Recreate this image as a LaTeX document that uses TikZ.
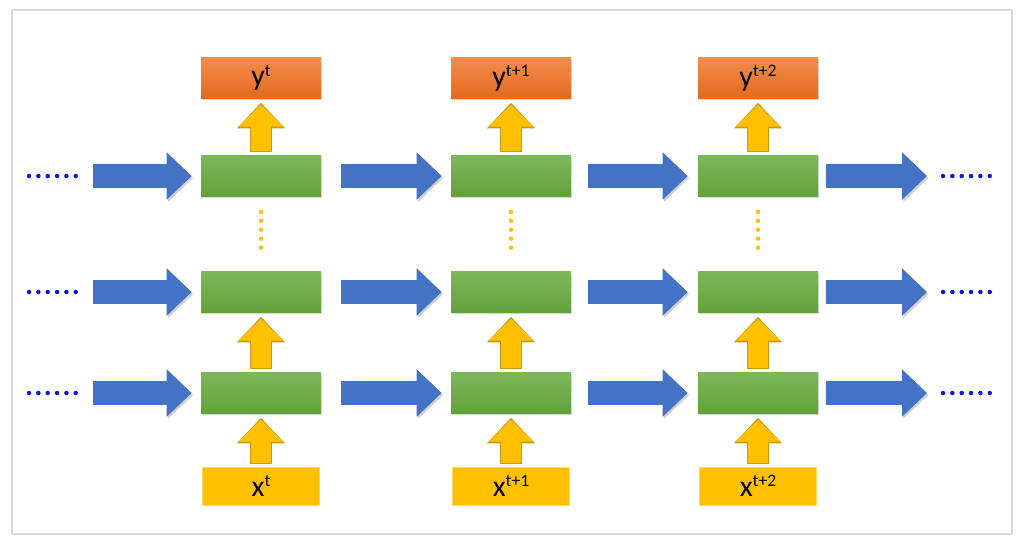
\documentclass[tikz,border=0pt]{standalone}
\usepackage{fontspec}
\setmainfont{Carlito}
\usetikzlibrary{arrows.meta,positioning,shadows}

\definecolor{greentop}{HTML}{7BB85A}
\definecolor{greenbot}{HTML}{62A23A}
\definecolor{orangetop}{HTML}{F28D4F}
\definecolor{orangebot}{HTML}{E36A1C}
\definecolor{ioyellow}{HTML}{FFC000}
\definecolor{liftedge}{HTML}{C99A0E}
\definecolor{flowblue}{HTML}{4472C4}
\definecolor{dotblue}{HTML}{0A14F0}

\tikzset{
  frame/.style={draw=black!15, line width=0.6pt},
  cell/.style={top color=greentop, bottom color=greenbot, minimum width=2.4cm, minimum height=0.82cm,
    drop shadow={shadow xshift=0.6pt, shadow yshift=-1.1pt, fill=black!40, opacity=0.4}},
  outbox/.style={top color=orangetop, bottom color=orangebot, minimum width=2.4cm, minimum height=0.82cm,
    inner sep=0pt, font=\fontsize{17}{20}\selectfont,
    drop shadow={shadow xshift=0.6pt, shadow yshift=-1.1pt, fill=black!40, opacity=0.4}},
  inbox/.style={fill=ioyellow, draw=ioyellow!60!white, line width=0.4pt, minimum width=2.34cm,
    minimum height=0.76cm, inner sep=0pt, font=\fontsize{17}{20}\selectfont},
  flow/.style={draw=flowblue, line width=0.48cm, -{Triangle[width=0.92cm,length=0.5cm]},
    preaction={draw=black!18, transform canvas={shift={(0.8pt,-1.2pt)}}}},
  lift/.style={draw=ioyellow, line width=11.9pt, shorten <=2.2pt, shorten >=3.4pt,
    -{Triangle[width=24.9pt,length=12.4pt]},
    preaction={draw=liftedge, line width=12.9pt, shorten <=1.7pt, shorten >=2.2pt,
      -{Triangle[width=26.5pt,length=14.6pt]}}},
  bluedots/.style={draw=dotblue, line width=0.09cm, line cap=round, dash pattern=on 0pt off 0.187cm},
  stackdots/.style={draw=ioyellow, line width=0.09cm, line cap=round, dash pattern=on 0pt off 0.179cm,
    shorten <=0.3cm, shorten >=0.3cm}
}
\newcommand{\lbl}[2]{#1\raisebox{5.5pt}{\fontsize{10}{12}\selectfont #2}}

\begin{document}
\begin{tikzpicture}[x=0.02cm, y=-0.02cm]
  \useasboundingbox (0,0) rectangle (1030,549);
  \draw[frame] (12,10) rectangle (1012,534);

  % one column per time step
  \foreach \c/\X/\s in {1/261/t, 2/511/t+1, 3/758/t+2} {
    \node[outbox] (y\c) at (\X,78) {\lbl{y}{\s}};
    \node[cell] (h3\c) at (\X,176) {};
    \node[cell] (h2\c) at (\X,292) {};
    \node[cell] (h1\c) at (\X,393) {};
    \node[inbox] (x\c) at (\X,486) {\lbl{x}{\s}};
    \draw[lift] (x\c) -- (h1\c);
    \draw[lift] (h1\c) -- (h2\c);
    \draw[lift] (h3\c) -- (y\c);
    \draw[stackdots] (h3\c) -- (h2\c);
  }

  % recurrent links along each layer
  \foreach \r/\Y in {3/176, 2/292, 1/393} {
    \coordinate (in\r) at (93,\Y);
    \coordinate (out\r) at (927,\Y);
    \draw[bluedots] (29,\Y) -- (76,\Y);
    \draw[bluedots] (943,\Y) -- (990,\Y);
    \draw[flow, shorten >=0.18cm] (in\r) -- (h\r1);
    \draw[flow, shorten <=0.4cm, shorten >=0.18cm] (h\r1) -- (h\r2);
    \draw[flow, shorten <=0.34cm, shorten >=0.2cm] (h\r2) -- (h\r3);
    \draw[flow, shorten <=0.16cm] (h\r3) -- (out\r);
  }
\end{tikzpicture}
\end{document}
